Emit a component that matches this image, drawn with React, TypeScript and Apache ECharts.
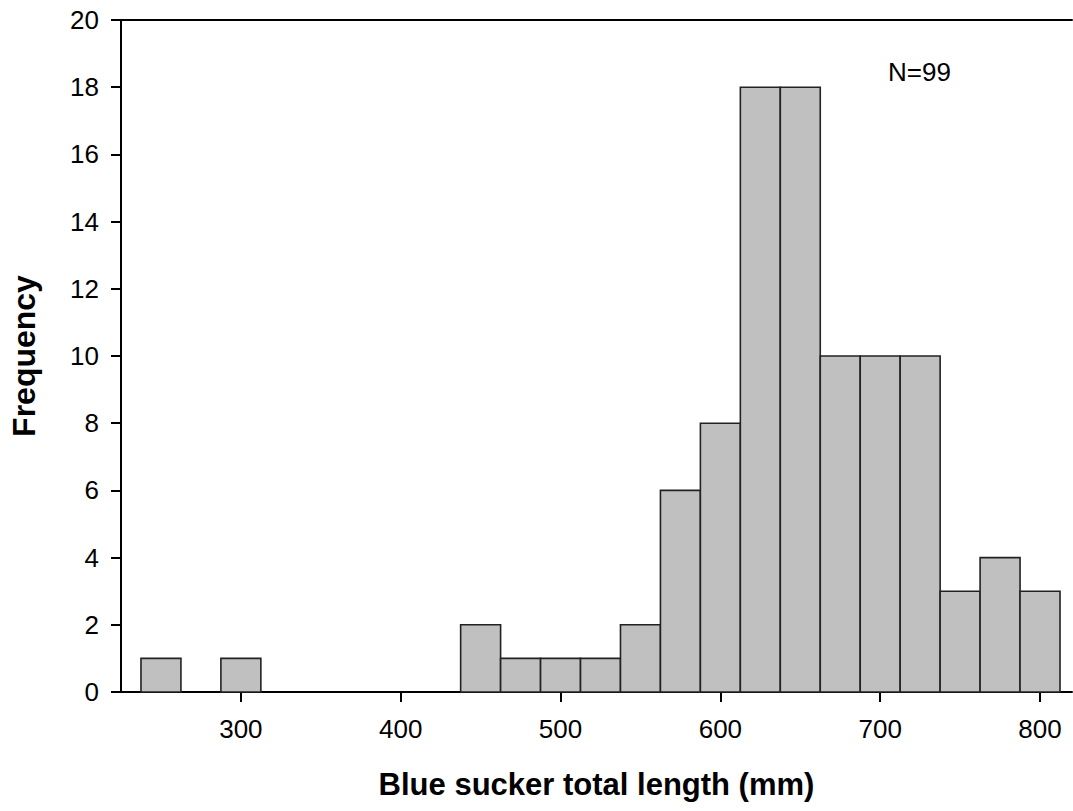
import React, { useEffect, useRef } from "react";
import * as echarts from "echarts";

// Histogram bins (centre of each 25 mm bin) and their counts
const binCenters = [250, 275, 300, 325, 350, 375, 400, 425, 450, 475, 500, 525, 550, 575, 600, 625, 650, 675, 700, 725, 750, 775, 800];
const frequencies = [1, 0, 1, 0, 0, 0, 0, 0, 2, 1, 1, 1, 2, 6, 8, 18, 18, 10, 10, 10, 3, 4, 3];
const binWidth = 25;
const xTickValues = [300, 400, 500, 600, 700, 800];
const sampleLabel = "N=99";
const xTitle = "Blue sucker total length (mm)";
const yTitle = "Frequency";

const FONT = "'Liberation Sans', Arial, Helvetica, sans-serif";

export default function App() {
  const ref = useRef<HTMLDivElement>(null);

  useEffect(() => {
    document.body.style.margin = "0";
    if (!ref.current) return;
    const chart = echarts.init(ref.current, undefined, { renderer: "svg" });
    const data = binCenters.map((c, i) => [c, frequencies[i]]);
    chart.setOption({
      animation: false,
      backgroundColor: "#ffffff",
      textStyle: { fontFamily: FONT },
      grid: { left: 120, right: 1, top: 20, bottom: 119, containLabel: false },
      xAxis: [
        {
          type: "value",
          min: 225,
          max: 820,
          position: "bottom",
          name: xTitle,
          nameLocation: "middle",
          nameGap: 77,
          nameTextStyle: { fontFamily: FONT, fontSize: 31, fontWeight: "bold", color: "#000" },
          axisLine: { show: true, onZero: false, lineStyle: { color: "#000", width: 2 } },
          axisTick: { show: true, inside: false, length: 10, customValues: xTickValues, lineStyle: { color: "#000", width: 2 } },
          axisLabel: { show: true, customValues: xTickValues, margin: 24, fontFamily: FONT, fontSize: 26, color: "#000" },
          splitLine: { show: false },
        },
        {
          type: "value",
          min: 225,
          max: 820,
          position: "top",
          axisLine: { show: true, onZero: false, lineStyle: { color: "#000", width: 2 } },
          axisTick: { show: false },
          axisLabel: { show: false },
          splitLine: { show: false },
        },
      ],
      yAxis: {
        type: "value",
        min: 0,
        max: 20,
        interval: 2,
        name: yTitle,
        nameLocation: "middle",
        nameGap: 81,
        nameTextStyle: { fontFamily: FONT, fontSize: 32, fontWeight: "bold", color: "#000" },
        axisLine: { show: true, lineStyle: { color: "#000", width: 2 } },
        axisTick: { show: true, inside: false, length: 10, lineStyle: { color: "#000", width: 2 } },
        axisLabel: { margin: 22, fontFamily: FONT, fontSize: 26, color: "#000" },
        splitLine: { show: false },
      },
      graphic: [
        {
          type: "text",
          left: 888,
          top: 59,
          style: { text: sampleLabel, font: `26px ${FONT}`, fill: "#000" },
        },
      ],
      series: [
        {
          type: "custom",
          xAxisIndex: 0,
          yAxisIndex: 0,
          encode: { x: 0, y: 1 },
          data,
          renderItem: (params: any, api: any) => {
            const c = api.value(0);
            const v = api.value(1);
            if (!v) return { type: "group", children: [] };
            const p0 = api.coord([c - binWidth / 2, v]);
            const p1 = api.coord([c + binWidth / 2, 0]);
            return {
              type: "rect",
              shape: { x: p0[0], y: p0[1], width: p1[0] - p0[0], height: p1[1] - p0[1] },
              style: { fill: "#c0c0c0", stroke: "#222222", lineWidth: 1.6 },
            };
          },
        },
      ],
    });
    return () => chart.dispose();
  }, []);

  return <div ref={ref} style={{ width: 1073, height: 811 }} />;
}
